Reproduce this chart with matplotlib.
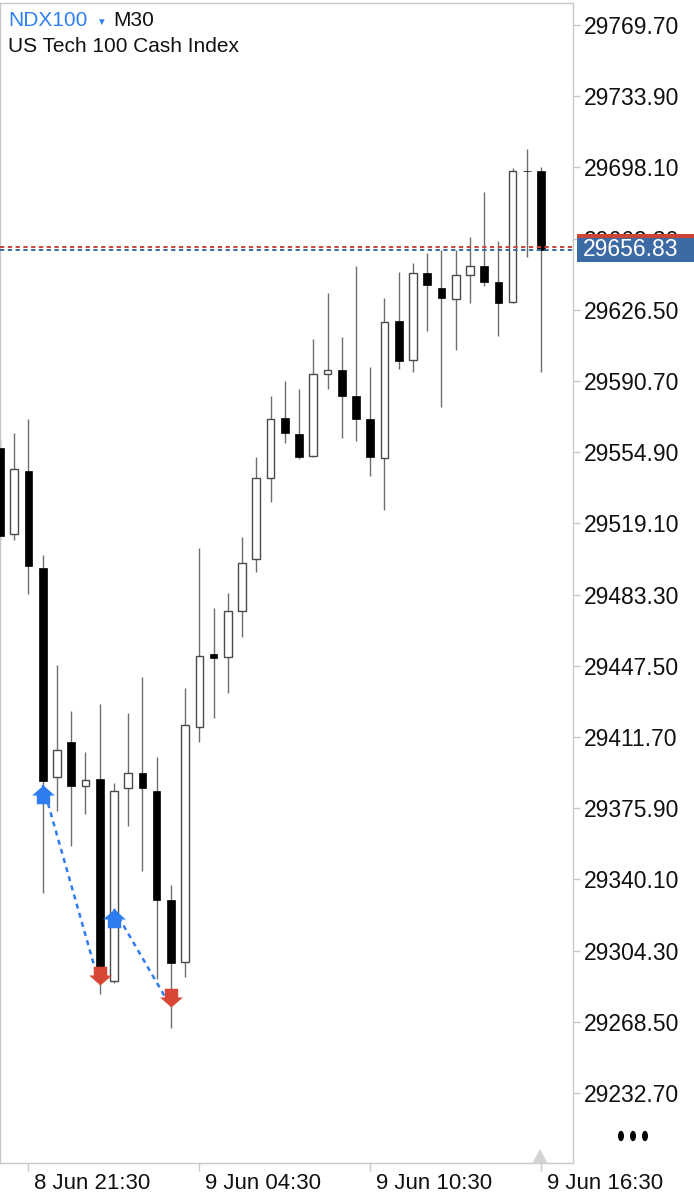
import matplotlib
matplotlib.use("Agg")
import matplotlib.pyplot as plt
from matplotlib.patches import Rectangle, Polygon, Circle
from matplotlib.path import Path
from matplotlib.transforms import ScaledTranslation

plt.rcParams['font.family'] = ['Liberation Sans', 'DejaVu Sans']

# NDX100 M30 bars (bar index 0 = first visible bar)
opens = [29557.02, 29513.77, 29545.45, 29496.68, 29391.59, 29409.19, 29387.07, 29390.59,
         29289.02, 29386.06, 29393.61, 29384.55, 29329.75, 29298.58, 29416.73, 29453.44,
         29451.93, 29475.06, 29501.20, 29541.93, 29572.10, 29564.05, 29552.99, 29594.22,
         29596.23, 29583.16, 29571.60, 29551.99, 29620.87, 29601.26, 29645.01, 29637.46,
         29631.93, 29644.00, 29648.53, 29640.48, 29630.42, 29696.50, 29696.29]
highs = [29561.04, 29564.56, 29571.60, 29503.22, 29447.91, 29424.78, 29404.16, 29428.30,
         29388.58, 29423.77, 29441.87, 29401.65, 29337.29, 29436.34, 29506.74, 29476.57,
         29484.11, 29512.27, 29552.49, 29583.16, 29590.70, 29586.68, 29611.82, 29634.95,
         29612.83, 29648.53, 29597.74, 29632.44, 29645.51, 29650.03, 29655.06, 29656.57,
         29656.57, 29663.11, 29685.73, 29661.10, 29697.80, 29707.35, 29698.30]
lows = [29510.76, 29510.76, 29483.61, 29333.27, 29374.50, 29356.90, 29372.99, 29282.49,
        29288.02, 29366.96, 29344.33, 29290.03, 29265.39, 29291.03, 29409.19, 29421.26,
        29433.83, 29461.99, 29494.67, 29529.86, 29559.53, 29551.48, 29552.49, 29586.68,
        29562.04, 29560.53, 29542.94, 29525.84, 29596.74, 29595.23, 29615.84, 29577.63,
        29606.29, 29629.92, 29638.47, 29613.33, 29630.00, 29653.05, 29595.23]
closes = [29512.77, 29546.46, 29497.69, 29389.58, 29405.17, 29387.07, 29390.09, 29296.06,
          29384.55, 29393.61, 29386.06, 29329.75, 29298.07, 29417.74, 29452.43, 29451.43,
          29475.06, 29499.19, 29541.93, 29571.60, 29564.56, 29552.49, 29594.22, 29596.23,
          29583.16, 29571.60, 29552.49, 29620.37, 29600.76, 29645.01, 29638.97, 29632.44,
          29644.00, 29648.53, 29640.48, 29629.92, 29696.29, 29696.29, 29656.83]

# price scale ticks and time labels
ytick_values = [29232.70, 29268.50, 29304.30, 29340.10, 29375.90, 29411.70, 29447.50,
                29483.30, 29519.10, 29554.90, 29590.70, 29626.50, 29662.30, 29698.10,
                29733.90, 29769.70]
xtick_bars = [2, 14, 26, 38]
xtick_labels = ["8 Jun 21:30", "9 Jun 04:30", "9 Jun 10:30", "9 Jun 16:30"]

# trade history: buy open (blue) -> close (red)
trade_open_bar = [3, 8]
trade_open_price = [29387.6, 29325.2]
trade_close_bar = [7, 12]
trade_close_price = [29287.0, 29276.0]

bid_price = 29656.83
ask_price = 29658.23

W, H = 694, 1199
fig = plt.figure(figsize=(W / 100, H / 100), dpi=100)
fig.patch.set_facecolor('white')
ax = fig.add_axes([0, 1 - 1163 / H, 573 / W, 1160 / H])
ax.set_xlim(0, 40.24)
ax.set_ylim(29197.5, 29780.8)

grid_col = '#c8c8c8'
for s in ax.spines.values():
    s.set_color(grid_col)
    s.set_linewidth(1)

# candles
body_w = 0.54
for i in range(len(opens)):
    o, h, l, c = opens[i], highs[i], lows[i], closes[i]
    ax.vlines(i, l, h, color='#6e6e6e', lw=1, zorder=2)
    top, bot = max(o, c), min(o, c)
    if c < o:
        ax.bar(i, max(top - bot, 0.2), bottom=bot, width=body_w, color='black',
               edgecolor='black', lw=0.5, zorder=3)
    else:
        ax.bar(i, max(top - bot, 0.2), bottom=bot, width=body_w, color='white',
               edgecolor='#4a4a4a', lw=1, zorder=3)

# bid / ask lines
ax.axhline(ask_price, color='#cc4436', lw=1.4, ls=(0, (2.2, 1.8)), zorder=4)
ax.axhline(bid_price, color='#3c6aa4', lw=1.4, ls=(0, (2.2, 1.8)), zorder=4)

# trade arrows, tip at the price
up_verts = [(0, 0), (8.5, -7.5), (5, -7.5), (5, -14), (-5, -14), (-5, -7.5), (-8.5, -7.5), (0, 0)]
up_arrow = Path(up_verts, closed=True)
down_arrow = Path([(x, -y) for x, y in up_verts], closed=True)
for k in range(len(trade_open_bar)):
    ax.plot([trade_open_bar[k], trade_close_bar[k]],
            [trade_open_price[k], trade_close_price[k]],
            color='#2f7cf0', lw=1.8, ls=(0, (2.0, 1.8)), zorder=5)
    ax.plot(trade_open_bar[k], trade_open_price[k], marker=up_arrow, ms=27,
            color='#2f7cf0', mec='none', zorder=6)
    ax.plot(trade_close_bar[k], trade_close_price[k], marker=down_arrow, ms=27,
            color='#d84636', mec='none', zorder=6)

# axes ticks
ax.yaxis.tick_right()
ax.set_yticks(ytick_values)
ax.set_yticklabels([f"{v:.2f}" for v in ytick_values])
ax.tick_params(axis='y', length=5, width=1, color=grid_col, pad=2.5,
               labelsize=16.5, labelcolor='#111111')
ax.set_xticks(xtick_bars)
ax.set_xticklabels(xtick_labels)
ax.tick_params(axis='x', length=6, width=1, color=grid_col, pad=1.5,
               labelsize=16, labelcolor='#111111')
shift = ScaledTranslation(6 / 100, 0, fig.dpi_scale_trans)
for lab in ax.get_xticklabels():
    lab.set_ha('left')
    lab.set_transform(lab.get_transform() + shift)


def px(x, y):
    return x / W, 1 - y / H


# current price tag on the price scale (covers the 29662.30 label as in the app)
fig.patches.append(Rectangle(px(577, 258), 117 / W, 24 / H, transform=fig.transFigure,
                             facecolor='#cc4436', edgecolor='none', zorder=3))
fig.patches.append(Rectangle(px(577, 262), 117 / W, 24 / H, transform=fig.transFigure,
                             facecolor='#3c6aa4', edgecolor='none', zorder=4))
fig.text(*px(583, 250), f"{bid_price:.2f}", color='white', fontsize=16.5,
         va='center', ha='left', zorder=5)

# current-time marker and menu dots
fig.patches.append(Polygon([px(540, 1149), px(548, 1164), px(532, 1164)], closed=True,
                           transform=fig.transFigure, facecolor='#d2d2d2',
                           edgecolor='none', zorder=3))
for cx in [621, 633, 645]:
    fig.patches.append(Circle(px(cx, 1136), 3 / W, transform=fig.transFigure,
                              facecolor='black', edgecolor='none'))

# header
fig.text(*px(8, 21), "NDX100", color='#2f7ff0', fontsize=15, va='center', ha='left')
fig.text(*px(96, 22), "\u25bc", color='#2f7ff0', fontsize=7, va='center', ha='left')
fig.text(*px(113, 21), "M30", color='#111111', fontsize=15, va='center', ha='left')
fig.text(*px(8, 47), "US Tech 100 Cash Index", color='#111111', fontsize=15,
         va='center', ha='left')

fig.savefig("out.png", dpi=100, facecolor='white')
